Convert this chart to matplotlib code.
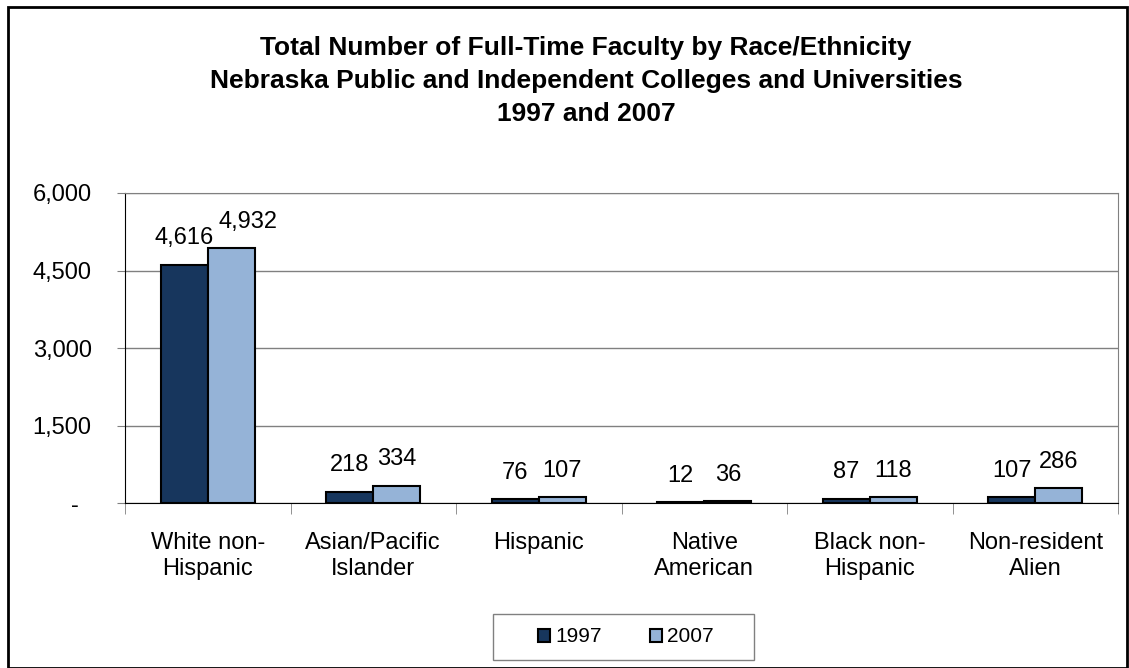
import matplotlib.pyplot as plt
import numpy as np
from matplotlib.patches import Rectangle
from matplotlib.ticker import FuncFormatter

plt.rcParams['font.family'] = ['Liberation Sans', 'DejaVu Sans']

categories = ['White non-\nHispanic', 'Asian/Pacific\nIslander', 'Hispanic',
              'Native\nAmerican', 'Black non-\nHispanic', 'Non-resident\nAlien']
series_names = ['1997', '2007']
values_1997 = [4616, 218, 76, 12, 87, 107]
values_2007 = [4932, 334, 107, 36, 118, 286]
colors = ['#17365D', '#95B3D7']
title_lines = ['Total Number of Full-Time Faculty by Race/Ethnicity',
               'Nebraska Public and Independent Colleges and Universities',
               '1997 and 2007']

W, H = 1129, 668
fig = plt.figure(figsize=(W / 100, H / 100), dpi=100)
ax = fig.add_axes([125 / W, 1 - 503 / H, 993 / W, 310 / H])

# outer chart border
fig.patches.append(Rectangle((8 / W, 0), 1119 / W, 661 / H, transform=fig.transFigure,
                             fill=False, edgecolor='black', linewidth=2))

for i, line in enumerate(title_lines):
    fig.text(586 / W, 1 - (48 + 33 * i) / H, line, ha='center', va='center',
             fontsize=19, fontweight='bold')

x = np.arange(len(categories))
width = 0.285
labels = []
for k, vals in enumerate([values_1997, values_2007]):
    pos = x + (k - 0.5) * width
    ax.bar(pos, vals, width, color=colors[k], edgecolor='black', linewidth=1.5,
           label=series_names[k], zorder=3)
    row = []
    for xp, v in zip(pos, vals):
        row.append(ax.annotate(f'{v:,}', (xp, v), xytext=(0, 11), textcoords='offset points',
                               ha='center', va='bottom', fontsize=17))
    labels.append(row)

ax.set_xlim(-0.5, len(categories) - 0.5)
ax.set_ylim(0, 6000)
ax.set_yticks([0, 1500, 3000, 4500, 6000])
ax.yaxis.set_major_formatter(FuncFormatter(lambda v, p: f'{v:,.0f}' if v else '-  '))
ax.grid(axis='y', color='#808080', linewidth=1, zorder=0)
ax.tick_params(axis='y', labelsize=17, length=6, color='#808080', pad=18)

ax.set_xticks(x)
ax.set_xticklabels(categories, fontsize=17, linespacing=1.25)
ax.set_xticks(np.arange(len(categories) + 1) - 0.5, minor=True)
ax.tick_params(axis='x', which='major', length=0, pad=21)
ax.tick_params(axis='x', which='minor', length=8, color='#808080', direction='out')

ax.spines['top'].set_color('#808080')
ax.spines['right'].set_color('#808080')
ax.spines['left'].set_color('black')
ax.spines['bottom'].set_color('black')

# legend frame like the original box
fig.patches.append(Rectangle((493 / W, 1 - 660 / H), 261 / W, 46 / H, transform=fig.transFigure,
                             fill=False, edgecolor='#808080', linewidth=1))
leg = fig.legend(loc='center', bbox_to_anchor=(626 / W, 1 - 637 / H), ncol=2,
                 fontsize=15, frameon=False,
                 handlelength=0.58, handleheight=0.58, handletextpad=0.24,
                 columnspacing=2.3, borderpad=0, borderaxespad=0)
for h in leg.legend_handles:
    h.set_linewidth(1.5)

# push overlapping data labels apart (2007 label moves right)
fig.canvas.draw()
r = fig.canvas.get_renderer()
for a, b in zip(labels[0], labels[1]):
    ba = a.get_window_extent(r)
    bb = b.get_window_extent(r)
    if bb.x0 < ba.x1 + 5 and bb.y0 < ba.y1 and bb.y1 > ba.y0:
        shift = (ba.x1 + 5 - bb.x0) * 72 / fig.dpi
        b.set_position((shift, 11))

fig.savefig('out.png', dpi=100)
